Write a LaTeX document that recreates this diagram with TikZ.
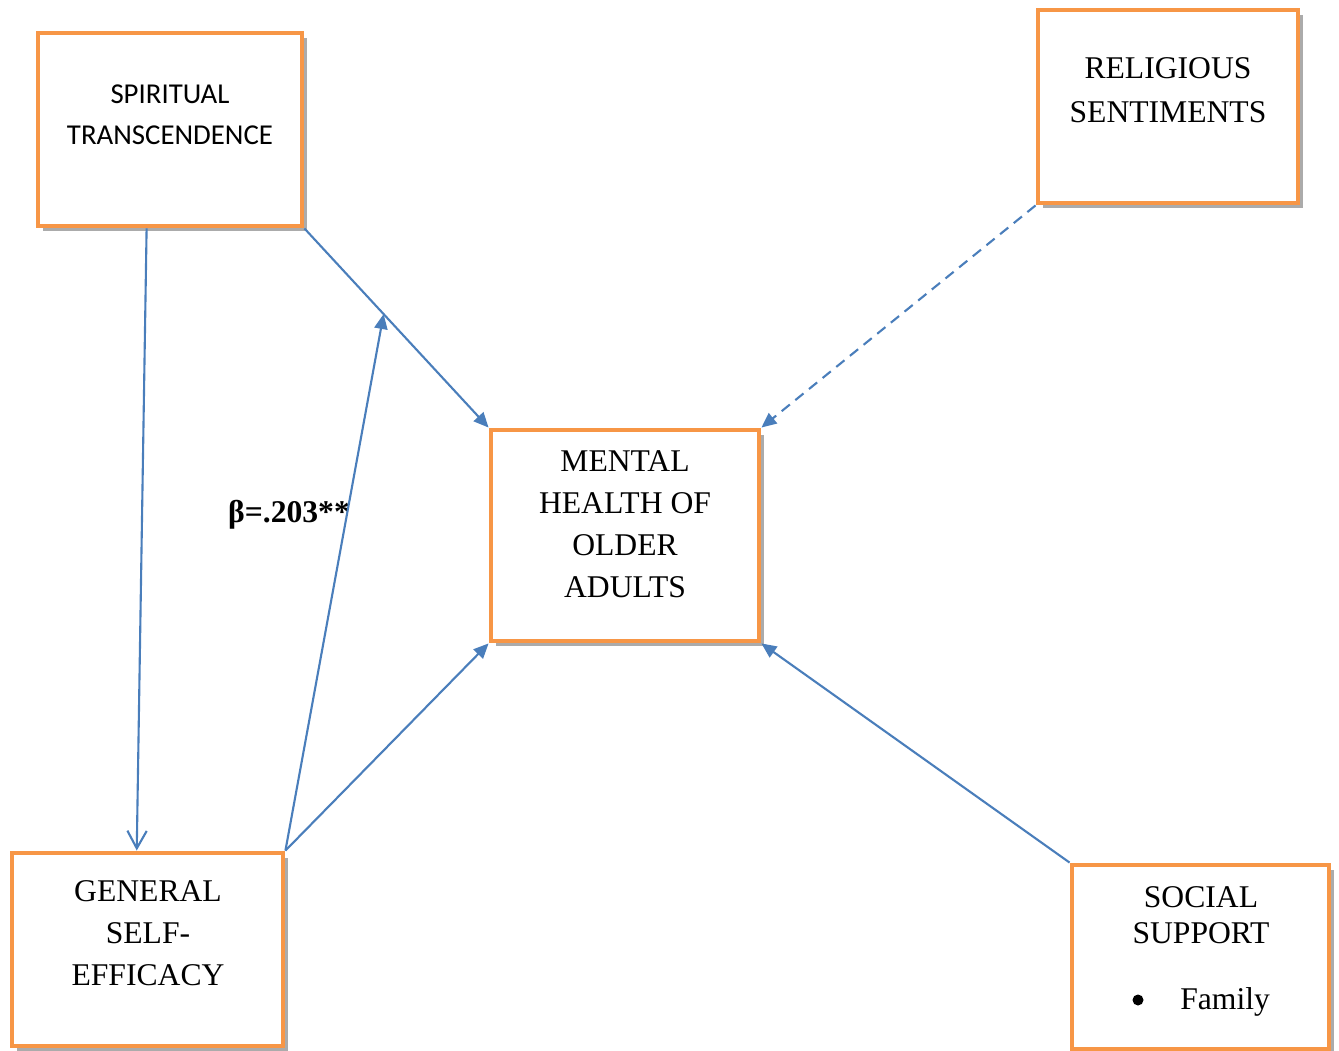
\documentclass[tikz,border=0pt]{standalone}
\usepackage{fontspec}
\setmainfont{Liberation Serif}
\newfontfamily\calfont{Carlito}
\usetikzlibrary{arrows.meta,shadows,calc}

\begin{document}
\begin{tikzpicture}[x=0.02cm,y=-0.02cm]
	\definecolor{boxorange}{HTML}{F79646}
	\definecolor{arrowblue}{HTML}{4A7EBB}
	\tikzset{
		varbox/.style={draw=boxorange,line width=2.8pt,fill=white,
			drop shadow={shadow xshift=3pt,shadow yshift=-3pt,opacity=0.55,fill=black!60}},
		vartext/.style={align=center,font=\fontsize{18}{23.8}\selectfont},
		link/.style={draw=arrowblue,line width=1.2pt,-{Triangle[length=8.5pt,width=7.5pt]}}}
	\useasboundingbox (0,0) rectangle (1339,1051);
	\node[varbox,minimum width=5.28cm,minimum height=3.86cm](st) at (170,129.5){};
	\node[varbox,minimum width=5.2cm,minimum height=3.86cm](rs) at (1168,106.5){};
	\node[varbox,minimum width=5.36cm,minimum height=4.22cm](mh) at (625,535.5){};
	\node[varbox,minimum width=5.42cm,minimum height=3.86cm](gs) at (147.5,949.5){};
	\node[varbox,minimum width=5.14cm,minimum height=3.68cm](ss) at (1200.5,957){};
	\node[align=center,font=\calfont\fontsize{16.4}{23.2}\selectfont](stt) at (170,115){SPIRITUAL\\TRANSCENDENCE};
	\node[vartext,font=\fontsize{18}{25}\selectfont](rst) at (1168,90){RELIGIOUS\\SENTIMENTS};
	\node[vartext](mht) at (625,524){MENTAL\\HEALTH OF\\OLDER\\ADULTS};
	\node[vartext](gst) at (148,933){GENERAL\\SELF-\\EFFICACY};
	\node[vartext,font=\fontsize{18}{20.4}\selectfont](sst) at (1201,915){SOCIAL\\SUPPORT};
	\node[circle,fill=black,inner sep=0pt,minimum size=0.22cm](ssb) at (1138,1000){};
	\node[anchor=base west,inner sep=0pt,font=\fontsize{18}{22}\selectfont](ssf) at (1180,1009){Family};
	\node[font=\bfseries\fontsize{18}{22}\selectfont](beta) at (289,515){β=.203**};
	\coordinate (stout) at ($(st.south west)!0.413!(st.south east)$);
	\coordinate (gsin) at ($(gs.north west)!0.461!(gs.north east)$);
	\coordinate (midpt) at ($(st.south east)!0.43!(mh.north west)$);
	\draw[link,-{Straight Barb[length=10pt,width=11pt]}](stout)--(gsin);
	\draw[link](st.south east)--(mh.north west);
	\draw[link](gs.north east)--(midpt);
	\draw[link](gs.north east)--(mh.south west);
	\draw[link](ss.north west)--(mh.south east);
	\draw[link,dash pattern=on 6pt off 4pt](rs.south west)--(mh.north east);
\end{tikzpicture}
\end{document}
